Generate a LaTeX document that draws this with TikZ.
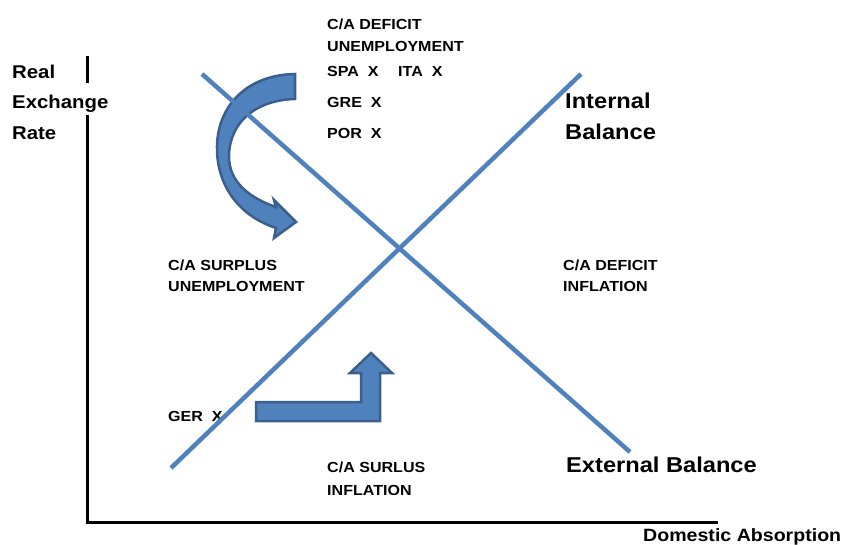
\documentclass[tikz,border=0pt]{standalone}
\usepackage{fontspec}
\setmainfont{Liberation Sans}[FakeStretch=1.1]
\usetikzlibrary{positioning}

\definecolor{lineblue}{HTML}{4F81BD}
\definecolor{edgeblue}{HTML}{3A5F8C}

\tikzset{
  lbl/.style={anchor=base west, inner sep=0pt, font=\fontsize{14.6}{17}\selectfont\bfseries},
  biglbl/.style={anchor=base west, inner sep=0pt, font=\fontsize{21.5}{25}\selectfont\bfseries},
  axlbl/.style={anchor=base west, inner sep=0pt, font=\fontsize{18.5}{22}\selectfont\bfseries},
  schedule/.style={lineblue, line width=4.5pt},
  bigarrow/.style={fill=lineblue, draw=edgeblue, line width=2.5pt, line join=miter}
}

\begin{document}
\begin{tikzpicture}[x=1pt, y=-1pt]
\useasboundingbox (0,0) rectangle (848,545);

% Axes
\draw[line width=3pt] (87,56) -- (87,83);
\draw[line width=3pt] (87,115) -- (87,522) -- (718,522);
\node[axlbl] (real) at (12,78.6) {Real};
\node[axlbl] (exch) at (12,108.6) {Exchange};
\node[axlbl] (rate) at (12,139.6) {Rate};
\node[axlbl, font=\fontsize{17.8}{21}\selectfont\bfseries] (absorb) at (643,541) {Domestic Absorption};

% Curved arrow
\draw[bigarrow]
  (295,74) .. controls (245,75) and (216,108) .. (217,150)
  .. controls (218,192) and (245,218) .. (276,228)
  -- (274,238) -- (296,222) -- (274,200) -- (276,207)
  .. controls (252,199) and (228,183) .. (229,155)
  .. controls (230,122) and (256,100) .. (295,99) -- cycle;

% Bent arrow
\draw[bigarrow]
  (256,402) -- (361,402) -- (361,373) -- (350,373) -- (371,353)
  -- (392,373) -- (380,373) -- (380,421) -- (256,421) -- cycle;

% Quadrant labels
\node[lbl] (q1a) at (327,30) {C/A DEFICIT};
\node[lbl] (q1b) at (327,52) {UNEMPLOYMENT};
\node[lbl] (spa) at (327,77) {SPA~~X};
\node[lbl] (ita) at (398,77) {ITA~~X};
\node[lbl] (gre) at (327,108) {GRE~~X};
\node[lbl] (por) at (327,139) {POR~~X};

\node[lbl] (q2a) at (168,270) {C/A SURPLUS};
\node[lbl] (q2b) at (168,291) {UNEMPLOYMENT};
\node[lbl] (q3a) at (563,270) {C/A DEFICIT};
\node[lbl] (q3b) at (563,291) {INFLATION};
\node[lbl] (ger) at (168,421) {GER~~X};
\node[lbl] (q4a) at (327,472) {C/A SURLUS};
\node[lbl] (q4b) at (327,495) {INFLATION};

% Internal and external balance schedules
\coordinate (ib1) at (202,74);
\coordinate (ib2) at (630,452);
\coordinate (eb1) at (171,468);
\coordinate (eb2) at (581,74);
\draw[schedule] (ib1) -- (ib2);
\draw[schedule] (eb1) -- (eb2);
\node[biglbl] (intA) at (565,108.7) {Internal};
\node[biglbl] (intB) at (565,139.7) {Balance};
\node[biglbl] (ext) at (566,472.7) {External Balance};

\end{tikzpicture}
\end{document}
